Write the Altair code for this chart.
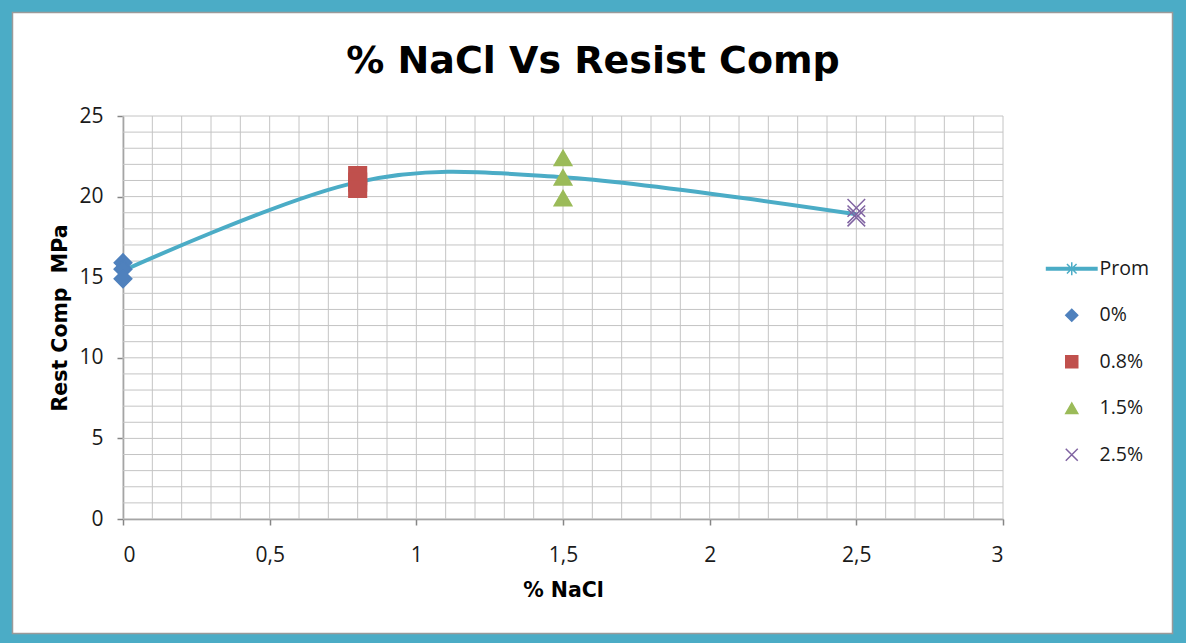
import altair as alt
import pandas as pd

# Compressive strength readings (MPa) for each NaCl dose
nacl_0 = [15.9, 15.5, 14.9]
nacl_08 = [21.3, 20.9, 20.5]
nacl_15 = [22.4, 21.2, 19.9]
nacl_25 = [19.3, 18.9, 18.7]

doses = [0.0, 0.8, 1.5, 2.5]
series_names = ["0%", "0.8%", "1.5%", "2.5%"]

# Average strength per dose ("Prom")
prom = [15.4, 20.9, 21.2, 18.9]

x_ticks = [0, 0.5, 1, 1.5, 2, 2.5, 3]
y_ticks = [0, 5, 10, 15, 20, 25]
x_grid = [round(i * 0.1, 1) for i in range(31)]
y_grid = list(range(26))

chart_title = "% NaCl Vs Resist Comp"

TEAL = "#4BACC6"
legend_domain = ["Prom"] + series_names
prom_symbol = ("M-4.2,-0.22L4.2,-0.22L4.2,0.22L-4.2,0.22Z"
               "M-1.1,0L1.1,0M0,-1.1L0,1.1M-0.8,-0.8L0.8,0.8M-0.8,0.8L0.8,-0.8")
x_symbol = "M-1,-1L1,1M-1,1L1,-1"
shape_range = [prom_symbol, "diamond", "square", "triangle-up", x_symbol]
fill_range = [TEAL, "#4F81BD", "#C0504D", "#9BBB59", "transparent"]
stroke_range = [TEAL, "#4F81BD", "#C0504D", "#9BBB59", "#8064A2"]

readings = [nacl_0, nacl_08, nacl_15, nacl_25]
points_df = pd.DataFrame(
    [{"x": d, "y": v, "serie": s}
     for d, s, vals in zip(doses, series_names, readings) for v in vals]
)
prom_df = pd.DataFrame({"x": doses, "y": prom})
vgrid_df = pd.DataFrame({"x": x_grid})
hgrid_df = pd.DataFrame({"y": y_grid})

x_scale = alt.Scale(domain=[0, 3], nice=False, zero=False)
y_scale = alt.Scale(domain=[0, 25], nice=False)

x_enc = alt.X(
    "x:Q", scale=x_scale, title="% NaCl",
    axis=alt.Axis(values=x_ticks,
                  labelExpr="replace(format(datum.value, '~g'), '.', ',')",
                  grid=False, tickSize=6, labelPadding=19, titlePadding=15),
)
y_enc = alt.Y(
    "y:Q", scale=y_scale, title="Rest Comp\u00a0 MPa",
    axis=alt.Axis(values=y_ticks, grid=False, tickSize=6, labelPadding=14,
                  titlePadding=8),
)

single = alt.Data(values=[{"k": 1}])

# Teal outer frame and thin grey inner edge
outer = alt.Chart(single).mark_rect(
    fillOpacity=0, stroke=TEAL, strokeWidth=14
).encode(x=alt.value(-118), x2=alt.value(1057), y=alt.value(-111), y2=alt.value(525))
inner = alt.Chart(single).mark_rect(
    fillOpacity=0, stroke="#9a9a9a", strokeWidth=1.5
).encode(x=alt.value(-110.5), x2=alt.value(1049.5), y=alt.value(-103.5), y2=alt.value(517.5))

# Chart heading
heading = alt.Chart(single).mark_text(
    text=chart_title, font="DejaVu Sans", fontSize=38, fontWeight="bold",
    color="#000000", align="center", baseline="alphabetic",
).encode(x=alt.value(470), y=alt.value(-43))

vgrid = alt.Chart(vgrid_df).mark_rule(color="#c4c4c4", strokeWidth=1).encode(x=x_enc)
hgrid = alt.Chart(hgrid_df).mark_rule(color="#c4c4c4", strokeWidth=1).encode(y=y_enc)

line = alt.Chart(prom_df).mark_line(
    color=TEAL, strokeWidth=4, interpolate="cardinal"
).encode(x=x_enc, y=y_enc)

points = alt.Chart(points_df).mark_point(
    filled=True, size=310, opacity=1, strokeWidth=1.5
).encode(
    x=x_enc,
    y=y_enc,
    shape=alt.Shape("serie:N", title=None,
                    scale=alt.Scale(domain=legend_domain, range=shape_range)),
    fill=alt.Fill("serie:N", title=None,
                  scale=alt.Scale(domain=legend_domain, range=fill_range)),
    stroke=alt.Stroke("serie:N", title=None,
                      scale=alt.Scale(domain=legend_domain, range=stroke_range)),
)

chart = alt.layer(vgrid, hgrid, line, points, outer, inner, heading).properties(
    width=880,
    height=403,
    autosize=alt.AutoSizeParams(type="none"),
    padding={"left": 123, "top": 116, "right": 183, "bottom": 124},
).configure(
    background="white",
).configure_view(
    stroke=None,
).configure_axis(
    domainColor="#868686",
    domainWidth=1.5,
    tickColor="#868686",
    tickWidth=1.5,
    labelFont="Open Sans",
    labelFontSize=21,
    labelColor="#1a1a1a",
    titleFont="DejaVu Sans",
    titleFontSize=20.5,
    titleFontWeight="bold",
    titleColor="#000000",
).configure_legend(
    orient="none",
    legendX=939,
    legendY=143,
    padding=0,
    symbolSize=144,
    symbolStrokeWidth=1.5,
    labelOffset=18,
    labelFont="Open Sans",
    labelFontSize=19.5,
    labelColor="#1a1a1a",
    rowPadding=25.5,
)

chart.save("out.html", embed_options={"renderer": "svg", "actions": False})
